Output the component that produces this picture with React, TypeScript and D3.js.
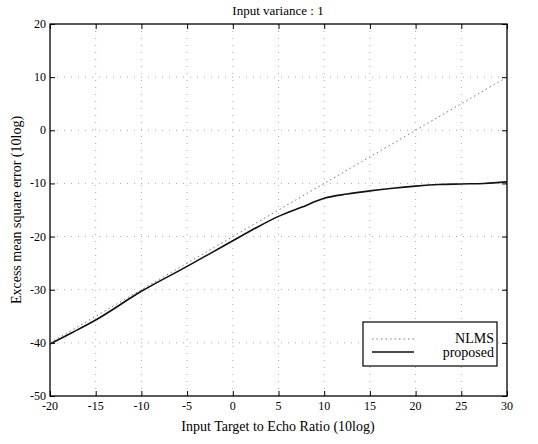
import React, { useEffect, useRef } from "react";
import * as d3 from "d3";

// values
const ratioX = [-20, -17.5, -15, -10, -5, -2.5, 0, 2.5, 5, 7.5, 10, 12.5, 15, 17.5, 20, 22.5, 25, 27.5, 30];
const proposedY = [-40.2, -38, -35.7, -30.3, -25.6, -23.2, -20.8, -18.4, -16.2, -14.5, -12.8, -12.0, -11.4, -10.9, -10.5, -10.2, -10.1, -10, -9.7];
const nlmsX = [-20, -15, -10, -5, 0, 5, 10, 15, 20, 25, 30];
const nlmsY = [-40, -35, -30, -25, -20, -15, -10, -5, 0, 5, 10];
const xTicks = [-20, -15, -10, -5, 0, 5, 10, 15, 20, 25, 30];
const yTicks = [20, 10, 0, -10, -20, -30, -40, -50];

const App = () => {
  const ref = useRef<SVGSVGElement>(null);

  useEffect(() => {
    const svg = d3.select(ref.current);
    svg.selectAll("*").remove();

    const left = 50, right = 507, top = 24, bottom = 396;
    const font = "'Liberation Serif', 'Times New Roman', serif";

    const x = d3.scaleLinear().domain([-20, 30]).range([left, right]);
    const y = d3.scaleLinear().domain([-50, 20]).range([bottom, top]);

    svg.append("rect").attr("width", 538).attr("height", 444).attr("fill", "#fff");

    // dotted grid
    const grid = svg.append("g").attr("stroke", "#aaa").attr("stroke-width", 1).attr("stroke-dasharray", "1,6");
    xTicks.slice(1, -1).forEach((t) => {
      grid.append("line").attr("x1", x(t)).attr("x2", x(t)).attr("y1", top).attr("y2", bottom);
    });
    yTicks.slice(1, -1).forEach((t) => {
      grid.append("line").attr("x1", left).attr("x2", right).attr("y1", y(t)).attr("y2", y(t));
    });

    // inward ticks on all sides
    svg.append("g").attr("transform", `translate(0,${bottom})`)
      .call(d3.axisTop(x).tickValues(xTicks).tickSize(5).tickFormat(() => ""))
      .call((g) => g.select(".domain").remove());
    svg.append("g").attr("transform", `translate(0,${top})`)
      .call(d3.axisBottom(x).tickValues(xTicks).tickSize(5).tickFormat(() => ""))
      .call((g) => g.select(".domain").remove());
    svg.append("g").attr("transform", `translate(${left},0)`)
      .call(d3.axisRight(y).tickValues(yTicks).tickSize(5).tickFormat(() => ""))
      .call((g) => g.select(".domain").remove());
    svg.append("g").attr("transform", `translate(${right},0)`)
      .call(d3.axisLeft(y).tickValues(yTicks).tickSize(5).tickFormat(() => ""))
      .call((g) => g.select(".domain").remove());

    // tick labels
    svg.append("g").selectAll("text").data(xTicks).join("text")
      .attr("x", (d) => x(d)).attr("y", bottom + 14)
      .attr("text-anchor", "middle").attr("font-family", font).attr("font-size", 12)
      .text((d) => String(d));
    svg.append("g").selectAll("text").data(yTicks).join("text")
      .attr("x", left - 4).attr("y", (d) => y(d) + 4)
      .attr("text-anchor", "end").attr("font-family", font).attr("font-size", 12)
      .text((d) => String(d));

    // frame
    svg.append("rect").attr("x", left).attr("y", top).attr("width", right - left).attr("height", bottom - top)
      .attr("fill", "none").attr("stroke", "#000").attr("stroke-width", 1.3);

    const line = d3.line<[number, number]>().x((d) => x(d[0])).y((d) => y(d[1]));

    // NLMS dotted
    svg.append("path")
      .datum(nlmsX.map((v, i) => [v, nlmsY[i]] as [number, number]))
      .attr("fill", "none").attr("stroke", "#777").attr("stroke-width", 1)
      .attr("stroke-dasharray", "1.5,3").attr("d", line);

    // proposed solid
    svg.append("path")
      .datum(ratioX.map((v, i) => [v, proposedY[i]] as [number, number]))
      .attr("fill", "none").attr("stroke", "#111").attr("stroke-width", 1.6)
      .attr("d", line.curve(d3.curveMonotoneX));

    // legend
    const lg = svg.append("g");
    lg.append("rect").attr("x", 363).attr("y", 322).attr("width", 134).attr("height", 44)
      .attr("fill", "#fff").attr("stroke", "#000").attr("stroke-width", 1.2);
    lg.append("line").attr("x1", 372).attr("x2", 414).attr("y1", 339).attr("y2", 339)
      .attr("stroke", "#777").attr("stroke-dasharray", "1.5,3");
    lg.append("line").attr("x1", 372).attr("x2", 414).attr("y1", 352).attr("y2", 352)
      .attr("stroke", "#111").attr("stroke-width", 1.6);
    lg.append("text").attr("x", 494).attr("y", 343).attr("text-anchor", "end")
      .attr("font-family", font).attr("font-size", 14).text("NLMS");
    lg.append("text").attr("x", 494).attr("y", 357).attr("text-anchor", "end")
      .attr("font-family", font).attr("font-size", 14).text("proposed");

    // titles
    svg.append("text").attr("x", 278).attr("y", 15).attr("text-anchor", "middle")
      .attr("font-family", font).attr("font-size", 13).text("Input variance : 1");
    svg.append("text").attr("x", 278).attr("y", 431).attr("text-anchor", "middle")
      .attr("font-family", font).attr("font-size", 14).text("Input Target to Echo Ratio (10log)");
    svg.append("text").attr("transform", "translate(21,210) rotate(-90)").attr("text-anchor", "middle")
      .attr("font-family", font).attr("font-size", 14).text("Excess mean square error (10log)");
  }, []);

  return <svg ref={ref} width={538} height={444} style={{ position: "absolute", left: 0, top: 0 }} />;
};

export default App;
